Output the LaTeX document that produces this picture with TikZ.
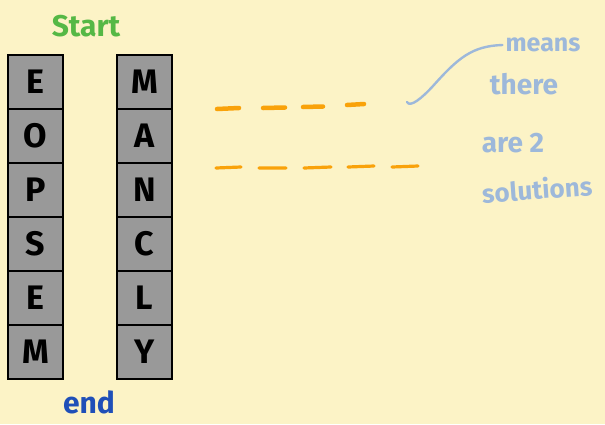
\documentclass[tikz,border=0pt]{standalone}
\usepackage{fontspec}
\setmainfont{Fira Sans}
\definecolor{bg}{HTML}{FCF3C6}
\definecolor{boxgray}{HTML}{999999}
\definecolor{startgreen}{HTML}{55B845}
\definecolor{endblue}{HTML}{1F4FB8}
\definecolor{dashorange}{HTML}{F9A20A}
\definecolor{noteblue}{HTML}{9DB8DA}
\begin{document}
\begin{tikzpicture}[x=1pt,y=-1pt,
  letterbox/.style={draw=black,line width=1.1pt,fill=boxgray,minimum width=55pt,minimum height=54pt,inner sep=0pt,font=\fontsize{34}{34}\selectfont\bfseries,text=black},
  orangedash/.style={draw=dashorange,line width=4.5pt,line cap=round},
  note/.style={text=noteblue,font=\fontsize{28}{28}\selectfont\bfseries,inner sep=0pt},
  ]
\fill[bg] (0,0) rectangle (605,424);
\useasboundingbox (0,0) rectangle (605,424);
% left column
\foreach \t [count=\i] in {E,O,P,S,E,M}{
  \node[letterbox] (l\i) at (35.5,{55+54*(\i-1)+27}) {\t};
}
\foreach \t [count=\i] in {M,A,N,C,L,Y}{
  \node[letterbox] (r\i) at (144.5,{55+54*(\i-1)+27}) {\t};
}
\node[text=startgreen,font=\fontsize{30}{30}\selectfont\bfseries] (start) at (86,26) {Start};
\node[text=endblue,font=\fontsize{30}{30}\selectfont\bfseries] (endt) at (89,402) {end};
% orange dashes row 1
\coordinate (a1) at (217,109); \coordinate (a2) at (239,108);
\coordinate (a3) at (263,108); \coordinate (a4) at (285,107.5);
\coordinate (a5) at (303,107); \coordinate (a6) at (323,106.5);
\coordinate (a7) at (347,105); \coordinate (a8) at (364,104);
\draw[orangedash] (a1)--(a2) (a3)--(a4) (a5)--(a6) (a7)--(a8);
% orange dashes row 2
\coordinate (b1) at (216,168); \coordinate (b2) at (241,167);
\coordinate (b3) at (259,168); \coordinate (b4) at (286,168);
\coordinate (b5) at (304,168); \coordinate (b6) at (331,167);
\coordinate (b7) at (348,167); \coordinate (b8) at (374,166);
\coordinate (b9) at (392,167); \coordinate (b10) at (418,166);
\draw[orangedash,line width=3.2pt] (b1)--(b2) (b3)--(b4) (b5)--(b6) (b7)--(b8) (b9)--(b10);
% note
\node[note,font=\fontsize{25}{25}\selectfont\bfseries] (means) at (543,45) {means};
\node[note] (there) at (524,84) {there};
\node[note] (are) at (513,143) {are 2};
\node[note,rotate=4,font=\fontsize{26}{26}\selectfont\bfseries] (sol) at (537,189) {solutions};
\draw[noteblue,line width=2.4pt,line cap=round] ([xshift=-3pt]means.west) .. controls (472,46) and (458,58) .. (433,86) .. controls (422,98) and (410,108) .. (407,102);
\end{tikzpicture}
\end{document}
